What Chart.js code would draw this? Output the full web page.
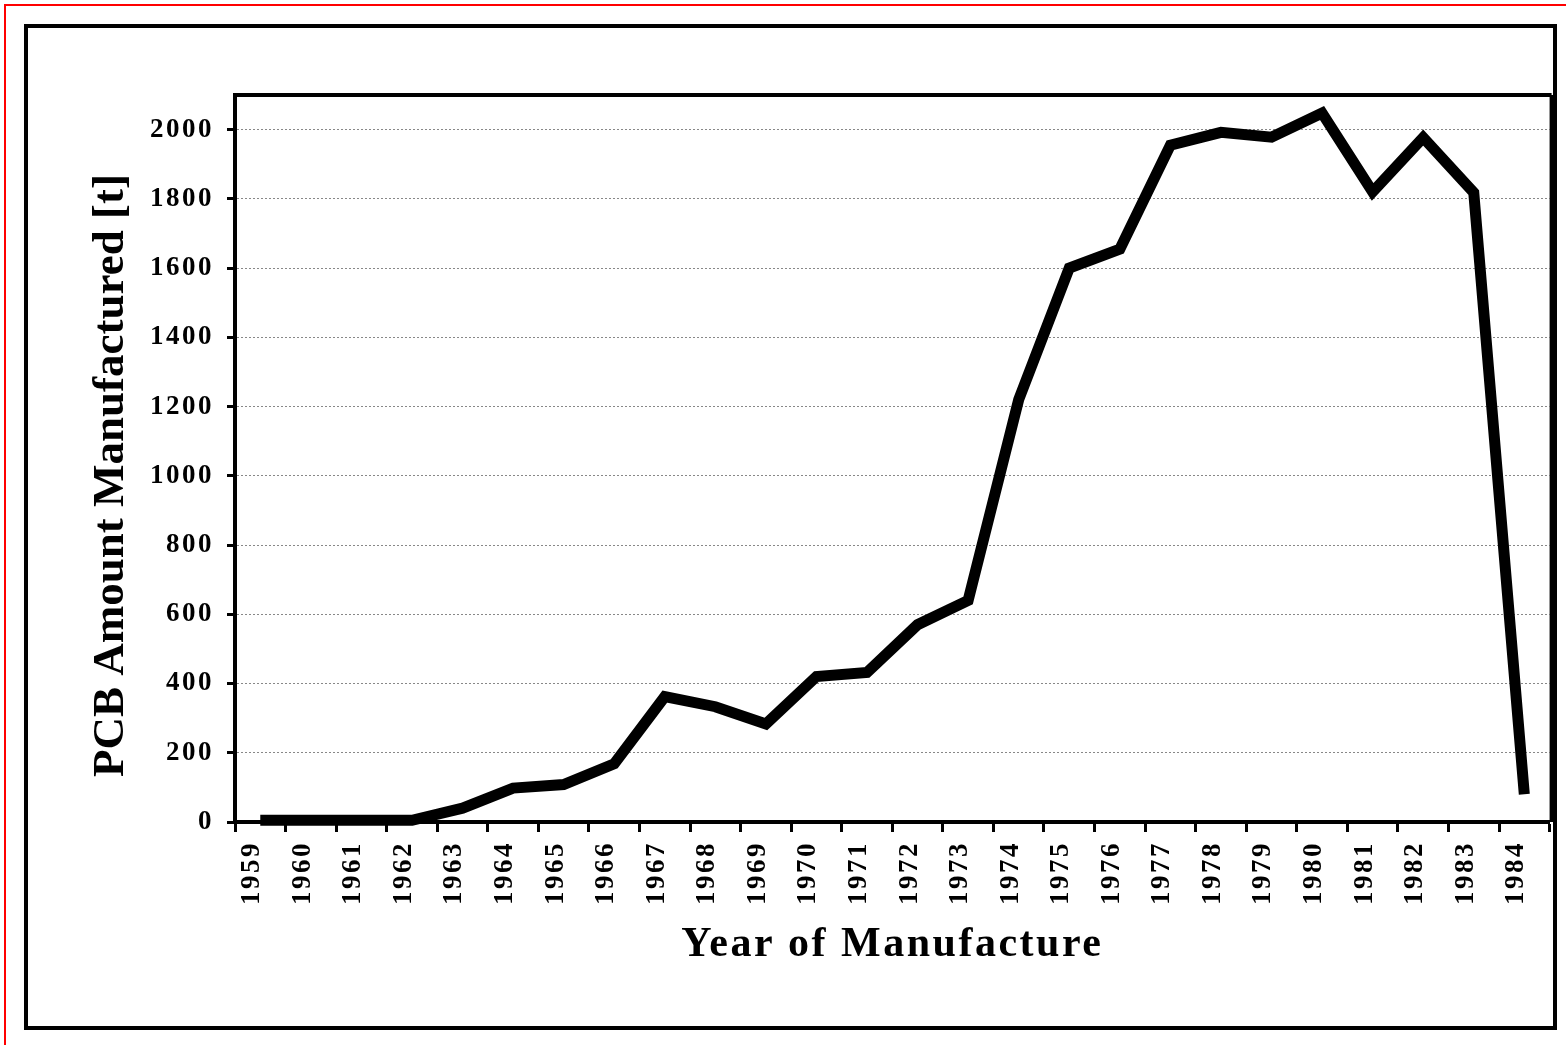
<!DOCTYPE html>
<html>
<head>
<meta charset="utf-8">
<script src="https://cdn.jsdelivr.net/npm/chart.js@4.4.1/dist/chart.umd.min.js"></script>
<style>
  html, body { margin: 0; padding: 0; background: #fff; }
  #wrap { position: relative; width: 1566px; height: 1045px; overflow: hidden; background: #fff; }
  #red { position: absolute; left: 4px; top: 4px; width: 1600px; height: 1100px; border-top: 2px solid #ff0000; border-left: 2px solid #ff0000; box-sizing: border-box; }
  #frame { position: absolute; left: 24px; top: 24px; width: 1533px; height: 1006px; border: 4px solid #000; box-sizing: border-box; }
  canvas { position: absolute; left: 0; top: 0; }
</style>
</head>
<body>
<div id="wrap">
  <div id="red"></div>
  <div id="frame"></div>
  <canvas id="c" width="1566" height="1045"></canvas>
</div>
<script>
const years = ['1959','1960','1961','1962','1963','1964','1965','1966','1967','1968','1969','1970','1971','1972','1973','1974','1975','1976','1977','1978','1979','1980','1981','1982','1983','1984'];
const pcbAmount = [5, 5, 5, 5, 40, 98, 108, 168, 362, 333, 283, 420, 432, 570, 640, 1220, 1600, 1655, 1955, 1992, 1978, 2048, 1820, 1977, 1818, 80];
const yTickValues = [0, 200, 400, 600, 800, 1000, 1200, 1400, 1600, 1800, 2000];
const yMax = 2100;
const xTitle = 'Year of Manufacture';
const yTitle = 'PCB Amount Manufactured [t]';

const FONT = "'Liberation Serif', 'Times New Roman', serif";
const SPACING = '2.5px';

const spacingPlugin = {
  id: 'spacing',
  beforeLayout(chart) { chart.ctx.letterSpacing = SPACING; },
  beforeDraw(chart) {
    chart.ctx.letterSpacing = SPACING;
    const ys = chart.scales.y;
    if (ys && !ys._patchedTitle) {
      const orig = ys.drawTitle;
      ys.drawTitle = function () {
        const c = this.ctx;
        c.save();
        c.letterSpacing = '0px';
        c.translate(0, 17);
        orig.call(this);
        c.restore();
      };
      ys._patchedTitle = true;
    }
  },
  afterDraw(chart) {
    const { ctx, chartArea } = chart;
    ctx.save();
    ctx.strokeStyle = '#000';
    ctx.lineWidth = 4;
    ctx.beginPath();
    ctx.moveTo(chartArea.left - 2, chartArea.top);
    ctx.lineTo(chartArea.right + 2, chartArea.top);
    ctx.moveTo(chartArea.right + 2, chartArea.top);
    ctx.lineTo(chartArea.right + 2, chartArea.bottom);
    ctx.stroke();
    ctx.restore();
  }
};

new Chart(document.getElementById('c'), {
  type: 'line',
  data: {
    labels: years,
    datasets: [{
      data: pcbAmount,
      borderColor: '#000',
      borderWidth: 11,
      pointRadius: 0,
      pointHoverRadius: 0,
      tension: 0,
      borderJoinStyle: 'miter',
      borderCapStyle: 'butt',
      fill: false,
      clip: false
    }]
  },
  options: {
    responsive: false,
    animation: false,
    devicePixelRatio: 1,
    events: [],
    layout: { padding: { top: 95, right: 15, left: 0, bottom: 0 } },
    plugins: { legend: { display: false }, tooltip: { enabled: false } },
    scales: {
      x: {
        type: 'category',
        offset: true,
        afterFit(scale) { scale.height = 223; },
        grid: {
          offset: true,
          drawOnChartArea: false,
          drawTicks: true,
          tickLength: 10,
          tickColor: '#000',
          tickWidth: 3
        },
        border: { display: true, color: '#000', width: 4 },
        ticks: {
          autoSkip: false,
          minRotation: 90,
          maxRotation: 90,
          padding: 9,
          labelOffset: -8,
          color: '#000',
          font: { family: FONT, size: 27, weight: 'bold' }
        },
        title: {
          display: true,
          text: xTitle,
          color: '#000',
          font: { family: FONT, size: 42, weight: 'bold' },
          padding: { top: 0, bottom: 75 }
        }
      },
      y: {
        type: 'linear',
        min: 0,
        max: yMax,
        afterFit(scale) { scale.width = 235; },
        afterBuildTicks(scale) { scale.ticks = yTickValues.map(v => ({ value: v })); },
        grid: {
          color: '#888',
          lineWidth: 1,
          drawTicks: true,
          tickLength: 8,
          tickColor: '#000',
          tickWidth: 3,
          tickBorderDash: []
        },
        border: { display: true, color: '#000', width: 4, dash: [2, 2] },
        ticks: {
          padding: 13,
          color: '#000',
          font: { family: FONT, size: 27, weight: 'bold' },
          callback: v => String(v)
        },
        title: {
          display: true,
          text: yTitle,
          color: '#000',
          font: { family: FONT, size: 45, weight: 'bold' },
          padding: { top: 84, bottom: 0 }
        }
      }
    }
  },
  plugins: [spacingPlugin]
});
</script>
</body>
</html>
